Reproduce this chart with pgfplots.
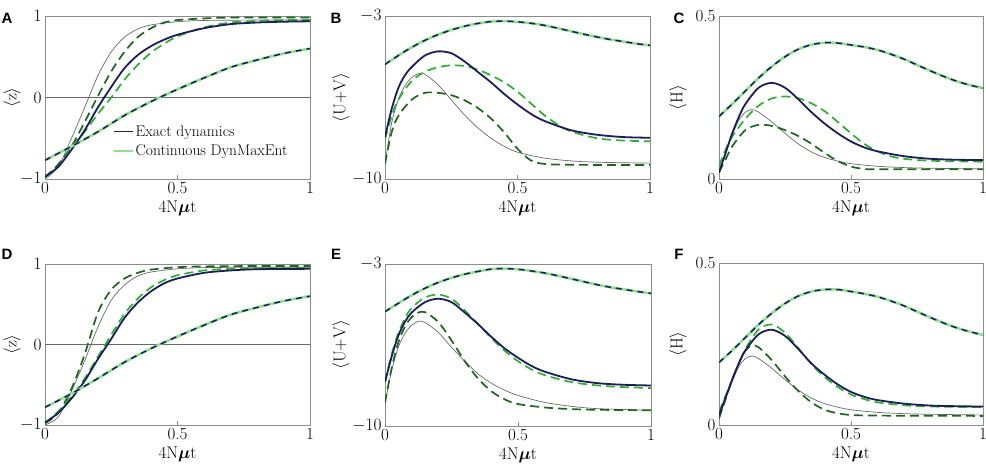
\documentclass[border=0pt]{standalone}
\usepackage{fontspec}
\usepackage{bm}
\usepackage{pgfplots}
\pgfplotsset{compat=1.18}
\newfontfamily\lbl{Liberation Sans}
\definecolor{navy}{RGB}{28,28,98}
\definecolor{ltgreen}{RGB}{135,230,135}
\definecolor{mdgreen}{RGB}{40,180,40}
\definecolor{dkgreen}{RGB}{25,105,25}
\definecolor{curvegray}{RGB}{105,105,105}
\definecolor{framegray}{RGB}{140,140,140}
\newcommand{\bigf}{\fontsize{17}{19}\selectfont}
\pgfplotsset{
  panel/.style={scale only axis, width=265pt, height=163pt, xmin=0, xmax=1,
    xtick={0,0.5,1}, xticklabels={0,0.5,1},
    axis line style={framegray, line width=0.6pt},
    tick style={framegray, line width=0.6pt}, major tick length=4pt, tick align=inside,
    xtick pos=bottom, ytick pos=left, clip=true,
    tick label style={font=\bigf},
    label style={font=\bigf},
    xlabel={4N$\bm{\mu}$t},
    xlabel style={at={(axis description cs:0.5,0)}, anchor=center, yshift=-29pt},
    anchor=south west},
  grayc/.style={color=curvegray, line width=0.7pt, smooth, forget plot},
  dgreen/.style={color=dkgreen, line width=1.7pt, dash pattern=on 9pt off 5pt, smooth, forget plot},
  mgreen/.style={color=mdgreen, line width=1.7pt, dash pattern=on 9pt off 5pt, smooth, forget plot},
  exact/.style={color=navy, line width=1.8pt, smooth, forget plot},
  cont/.style={color=ltgreen, line width=2.6pt, smooth, forget plot},
  exactd/.style={color=navy, line width=1.5pt, dash pattern=on 6pt off 5pt, smooth, forget plot},
}
\begin{document}
\begin{tikzpicture}
\path[use as bounding box] (0,0) rectangle (986pt,470pt);
% ---------------- A ----------------
\begin{axis}[panel, at={(45pt,291pt)}, ymin=-1, ymax=1, ytick={-1,0,1},
  ylabel={$\langle \mathrm{z}\rangle$},
  ylabel style={at={([xshift=-33pt]axis description cs:0,0.5)}, anchor=center},
  legend style={at={(axis description cs:0.245,0.355)}, anchor=north west, draw=none, fill=none,
    font=\fontsize{15.5}{18}\selectfont, row sep=3pt},
  legend cell align=left,
  legend image code/.code={\draw[#1, line width=1.5pt] (0pt,0pt) -- (19pt,0pt);}]
\addlegendimage{navy}
\addlegendentry{Exact dynamics}
\addlegendimage{ltgreen}
\addlegendentry{Continuous DynMaxEnt}
\addplot[curvegray, line width=0.6pt, forget plot] coordinates {(0,0) (1,0)};
\addplot[grayc] coordinates {(0,-1) (0.05,-0.85) (0.1,-0.5) (0.15,-0.12) (0.2,0.27) (0.25,0.56) (0.3,0.74) (0.35,0.84) (0.4,0.89) (0.5,0.93) (0.6,0.945) (0.8,0.95) (1,0.95)};
\addplot[dgreen] coordinates {(0,-0.98) (0.05,-0.82) (0.1,-0.6) (0.15,-0.3) (0.2,0.02) (0.25,0.32) (0.3,0.56) (0.35,0.74) (0.4,0.85) (0.45,0.92) (0.5,0.95) (0.6,0.97) (0.7,0.98) (1,0.98)};
\addplot[mgreen] coordinates {(0,-0.98) (0.05,-0.85) (0.1,-0.62) (0.15,-0.42) (0.2,-0.2) (0.25,0.0) (0.3,0.22) (0.35,0.4) (0.4,0.55) (0.45,0.66) (0.5,0.75) (0.6,0.86) (0.7,0.92) (0.8,0.94) (0.9,0.95) (1,0.95)};
\addplot[exact] coordinates {(0,-0.97) (0.05,-0.85) (0.1,-0.64) (0.15,-0.4) (0.2,-0.12) (0.25,0.13) (0.3,0.36) (0.35,0.52) (0.4,0.63) (0.45,0.71) (0.5,0.77) (0.6,0.85) (0.7,0.9) (0.8,0.92) (0.9,0.93) (1,0.935)};
\addplot[cont] coordinates {(0,-0.77) (0.1,-0.6) (0.2,-0.42) (0.3,-0.22) (0.4,-0.05) (0.5,0.1) (0.6,0.24) (0.7,0.37) (0.8,0.46) (0.9,0.54) (1,0.6)};
\addplot[exactd] coordinates {(0,-0.77) (0.1,-0.6) (0.2,-0.42) (0.3,-0.22) (0.4,-0.05) (0.5,0.1) (0.6,0.24) (0.7,0.37) (0.8,0.46) (0.9,0.54) (1,0.6)};
\end{axis}
% ---------------- B ----------------
\begin{axis}[panel, at={(385pt,291pt)}, ymin=-10, ymax=-3, ytick={-10,-3},
  ylabel={$\langle \mathrm{U{+}V}\rangle$},
  ylabel style={at={([xshift=-44pt]axis description cs:0,0.5)}, anchor=center}]
\addplot[grayc] coordinates {(0,-9.35) (0.025,-7.6) (0.05,-6.6) (0.075,-6.0) (0.1,-5.65) (0.125,-5.48) (0.15,-5.5) (0.2,-5.95) (0.25,-6.6) (0.3,-7.25) (0.35,-7.8) (0.4,-8.25) (0.45,-8.6) (0.5,-8.85) (0.6,-9.1) (0.7,-9.22) (0.8,-9.28) (1,-9.32)};
\addplot[dgreen] coordinates {(0,-9.35) (0.025,-8.0) (0.05,-7.3) (0.1,-6.6) (0.15,-6.3) (0.2,-6.3) (0.25,-6.4) (0.3,-6.62) (0.35,-6.95) (0.4,-7.4) (0.45,-8.0) (0.5,-8.7) (0.55,-9.2) (0.6,-9.35) (0.7,-9.39) (1,-9.4)};
\addplot[mgreen] coordinates {(0,-8.3) (0.025,-7.3) (0.05,-6.6) (0.1,-5.8) (0.15,-5.4) (0.2,-5.2) (0.25,-5.12) (0.3,-5.15) (0.35,-5.3) (0.4,-5.55) (0.45,-5.85) (0.5,-6.25) (0.55,-6.75) (0.6,-7.25) (0.65,-7.65) (0.7,-7.95) (0.8,-8.25) (0.9,-8.35) (1,-8.38)};
\addplot[exact] coordinates {(0,-8.2) (0.025,-7.0) (0.05,-6.1) (0.075,-5.55) (0.1,-5.2) (0.15,-4.7) (0.2,-4.52) (0.25,-4.6) (0.3,-4.95) (0.35,-5.4) (0.4,-5.85) (0.45,-6.35) (0.5,-6.8) (0.55,-7.2) (0.6,-7.5) (0.7,-7.9) (0.8,-8.1) (0.9,-8.2) (1,-8.23)};
\addplot[cont] coordinates {(0,-5.08) (0.05,-4.7) (0.1,-4.35) (0.15,-4.05) (0.2,-3.8) (0.25,-3.6) (0.3,-3.44) (0.35,-3.32) (0.4,-3.24) (0.45,-3.22) (0.5,-3.25) (0.55,-3.31) (0.6,-3.4) (0.65,-3.52) (0.7,-3.65) (0.75,-3.78) (0.8,-3.9) (0.85,-4.01) (0.9,-4.1) (0.95,-4.19) (1,-4.26)};
\addplot[exactd] coordinates {(0,-5.08) (0.05,-4.7) (0.1,-4.35) (0.15,-4.05) (0.2,-3.8) (0.25,-3.6) (0.3,-3.44) (0.35,-3.32) (0.4,-3.24) (0.45,-3.22) (0.5,-3.25) (0.55,-3.31) (0.6,-3.4) (0.65,-3.52) (0.7,-3.65) (0.75,-3.78) (0.8,-3.9) (0.85,-4.01) (0.9,-4.1) (0.95,-4.19) (1,-4.26)};
\end{axis}
% ---------------- C ----------------
\begin{axis}[panel, at={(719pt,291pt)}, width=264pt, ymin=0, ymax=0.5, ytick={0,0.5}, yticklabels={0,0.5},
  ylabel={$\langle \mathrm{H}\rangle$},
  ylabel style={at={([xshift=-41pt]axis description cs:0,0.5)}, anchor=center}]
\addplot[grayc] coordinates {(0,0.02) (0.025,0.08) (0.05,0.135) (0.075,0.18) (0.1,0.205) (0.125,0.213) (0.15,0.205) (0.2,0.175) (0.25,0.14) (0.3,0.108) (0.35,0.083) (0.4,0.066) (0.45,0.055) (0.5,0.047) (0.6,0.039) (0.7,0.035) (0.8,0.033) (1,0.031)};
\addplot[dgreen] coordinates {(0,0.02) (0.025,0.06) (0.05,0.1) (0.1,0.15) (0.15,0.166) (0.2,0.163) (0.25,0.15) (0.3,0.132) (0.35,0.108) (0.4,0.08) (0.45,0.055) (0.5,0.038) (0.55,0.031) (0.6,0.03) (1,0.03)};
\addplot[mgreen] coordinates {(0,0.04) (0.025,0.09) (0.05,0.13) (0.1,0.185) (0.15,0.225) (0.2,0.247) (0.25,0.253) (0.3,0.248) (0.35,0.232) (0.4,0.208) (0.45,0.175) (0.5,0.14) (0.55,0.108) (0.6,0.085) (0.65,0.07) (0.7,0.062) (0.8,0.056) (1,0.053)};
\addplot[exact] coordinates {(0,0.02) (0.025,0.08) (0.05,0.14) (0.075,0.19) (0.1,0.23) (0.15,0.28) (0.2,0.295) (0.25,0.28) (0.3,0.245) (0.35,0.205) (0.4,0.17) (0.45,0.14) (0.5,0.115) (0.55,0.097) (0.6,0.085) (0.7,0.07) (0.8,0.062) (0.9,0.059) (1,0.058)};
\addplot[cont] coordinates {(0,0.192) (0.05,0.23) (0.1,0.27) (0.15,0.31) (0.2,0.345) (0.25,0.375) (0.3,0.398) (0.35,0.412) (0.4,0.418) (0.45,0.417) (0.5,0.411) (0.55,0.405) (0.6,0.396) (0.65,0.383) (0.7,0.368) (0.75,0.35) (0.8,0.332) (0.85,0.315) (0.9,0.3) (0.95,0.288) (1,0.279)};
\addplot[exactd] coordinates {(0,0.192) (0.05,0.23) (0.1,0.27) (0.15,0.31) (0.2,0.345) (0.25,0.375) (0.3,0.398) (0.35,0.412) (0.4,0.418) (0.45,0.417) (0.5,0.411) (0.55,0.405) (0.6,0.396) (0.65,0.383) (0.7,0.368) (0.75,0.35) (0.8,0.332) (0.85,0.315) (0.9,0.3) (0.95,0.288) (1,0.279)};
\end{axis}
% ---------------- D ----------------
\begin{axis}[panel, at={(45pt,45pt)}, height=161pt, ymin=-1, ymax=1, ytick={-1,0,1},
  ylabel={$\langle \mathrm{z}\rangle$},
  ylabel style={at={([xshift=-33pt]axis description cs:0,0.5)}, anchor=center}]
\addplot[curvegray, line width=0.6pt, forget plot] coordinates {(0,0) (1,0)};
\addplot[grayc] coordinates {(0,-1) (0.05,-0.9) (0.1,-0.58) (0.15,-0.2) (0.2,0.22) (0.25,0.55) (0.3,0.74) (0.35,0.85) (0.4,0.9) (0.5,0.94) (0.6,0.955) (0.8,0.96) (1,0.96)};
\addplot[dgreen] coordinates {(0,-0.98) (0.05,-0.85) (0.1,-0.55) (0.15,-0.12) (0.2,0.4) (0.25,0.68) (0.3,0.82) (0.35,0.89) (0.4,0.93) (0.5,0.96) (0.6,0.97) (0.8,0.975) (1,0.975)};
\addplot[mgreen] coordinates {(0,-0.98) (0.05,-0.83) (0.1,-0.65) (0.15,-0.42) (0.2,-0.15) (0.25,0.12) (0.3,0.38) (0.35,0.57) (0.4,0.71) (0.45,0.8) (0.5,0.86) (0.6,0.92) (0.7,0.94) (0.85,0.95) (1,0.95)};
\addplot[exact] coordinates {(0,-0.97) (0.05,-0.85) (0.1,-0.67) (0.15,-0.45) (0.2,-0.18) (0.25,0.07) (0.3,0.33) (0.35,0.52) (0.4,0.66) (0.45,0.76) (0.5,0.82) (0.6,0.89) (0.7,0.92) (0.8,0.935) (1,0.94)};
\addplot[cont] coordinates {(0,-0.78) (0.1,-0.61) (0.2,-0.42) (0.3,-0.22) (0.4,-0.05) (0.5,0.1) (0.6,0.24) (0.7,0.37) (0.8,0.46) (0.9,0.54) (1,0.6)};
\addplot[exactd] coordinates {(0,-0.78) (0.1,-0.61) (0.2,-0.42) (0.3,-0.22) (0.4,-0.05) (0.5,0.1) (0.6,0.24) (0.7,0.37) (0.8,0.46) (0.9,0.54) (1,0.6)};
\end{axis}
% ---------------- E ----------------
\begin{axis}[panel, at={(385pt,44pt)}, width=266pt, height=162pt, ymin=-10, ymax=-3, ytick={-10,-3},
  ylabel={$\langle \mathrm{U{+}V}\rangle$},
  ylabel style={at={([xshift=-44pt]axis description cs:0,0.5)}, anchor=center}]
\addplot[grayc] coordinates {(0,-9.0) (0.025,-7.6) (0.05,-6.6) (0.075,-6.0) (0.1,-5.65) (0.125,-5.48) (0.15,-5.52) (0.2,-5.95) (0.25,-6.6) (0.3,-7.2) (0.35,-7.75) (0.4,-8.15) (0.45,-8.45) (0.5,-8.68) (0.6,-8.98) (0.7,-9.15) (0.8,-9.25) (1,-9.32)};
\addplot[dgreen] coordinates {(0,-9.0) (0.025,-7.5) (0.05,-6.4) (0.075,-5.7) (0.1,-5.3) (0.125,-5.1) (0.15,-5.08) (0.2,-5.5) (0.25,-6.3) (0.3,-7.2) (0.35,-7.95) (0.4,-8.5) (0.45,-8.85) (0.5,-9.05) (0.6,-9.2) (0.7,-9.27) (0.8,-9.3) (1,-9.32)};
\addplot[mgreen] coordinates {(0,-8.1) (0.025,-6.9) (0.05,-6.0) (0.075,-5.35) (0.1,-4.9) (0.15,-4.45) (0.2,-4.32) (0.25,-4.5) (0.3,-5.0) (0.35,-5.6) (0.4,-6.2) (0.45,-6.75) (0.5,-7.2) (0.55,-7.55) (0.6,-7.8) (0.7,-8.1) (0.8,-8.25) (0.9,-8.32) (1,-8.36)};
\addplot[exact] coordinates {(0,-8.1) (0.025,-7.0) (0.05,-6.1) (0.075,-5.5) (0.1,-5.1) (0.15,-4.65) (0.2,-4.5) (0.25,-4.65) (0.3,-5.1) (0.35,-5.6) (0.4,-6.15) (0.45,-6.65) (0.5,-7.05) (0.55,-7.4) (0.6,-7.65) (0.7,-7.98) (0.8,-8.15) (0.9,-8.22) (1,-8.25)};
\addplot[cont] coordinates {(0,-5.06) (0.05,-4.7) (0.1,-4.35) (0.15,-4.05) (0.2,-3.8) (0.25,-3.6) (0.3,-3.44) (0.35,-3.32) (0.4,-3.22) (0.45,-3.2) (0.5,-3.23) (0.55,-3.3) (0.6,-3.39) (0.65,-3.51) (0.7,-3.64) (0.75,-3.77) (0.8,-3.9) (0.85,-4.01) (0.9,-4.1) (0.95,-4.19) (1,-4.27)};
\addplot[exactd] coordinates {(0,-5.06) (0.05,-4.7) (0.1,-4.35) (0.15,-4.05) (0.2,-3.8) (0.25,-3.6) (0.3,-3.44) (0.35,-3.32) (0.4,-3.22) (0.45,-3.2) (0.5,-3.23) (0.55,-3.3) (0.6,-3.39) (0.65,-3.51) (0.7,-3.64) (0.75,-3.77) (0.8,-3.9) (0.85,-4.01) (0.9,-4.1) (0.95,-4.19) (1,-4.27)};
\end{axis}
% ---------------- F ----------------
\begin{axis}[panel, at={(719pt,45pt)}, width=264pt, height=162pt, ymin=0, ymax=0.5, ytick={0,0.5}, yticklabels={0,0.5},
  ylabel={$\langle \mathrm{H}\rangle$},
  ylabel style={at={([xshift=-41pt]axis description cs:0,0.5)}, anchor=center}]
\addplot[grayc] coordinates {(0,0.02) (0.025,0.08) (0.05,0.135) (0.075,0.18) (0.1,0.205) (0.125,0.213) (0.15,0.205) (0.2,0.175) (0.25,0.14) (0.3,0.108) (0.35,0.083) (0.4,0.066) (0.45,0.055) (0.5,0.047) (0.6,0.039) (0.7,0.035) (0.8,0.033) (1,0.031)};
\addplot[dgreen] coordinates {(0,0.02) (0.025,0.08) (0.05,0.14) (0.075,0.19) (0.1,0.23) (0.125,0.245) (0.15,0.24) (0.2,0.2) (0.25,0.15) (0.3,0.105) (0.35,0.07) (0.4,0.047) (0.45,0.036) (0.5,0.031) (0.6,0.029) (1,0.028)};
\addplot[mgreen] coordinates {(0,0.04) (0.025,0.09) (0.05,0.14) (0.075,0.19) (0.1,0.235) (0.15,0.295) (0.2,0.31) (0.25,0.285) (0.3,0.238) (0.35,0.188) (0.4,0.148) (0.45,0.117) (0.5,0.094) (0.55,0.08) (0.6,0.07) (0.7,0.061) (0.8,0.057) (1,0.055)};
\addplot[exact] coordinates {(0,0.03) (0.025,0.085) (0.05,0.14) (0.075,0.19) (0.1,0.23) (0.15,0.28) (0.2,0.294) (0.25,0.275) (0.3,0.235) (0.35,0.19) (0.4,0.155) (0.45,0.125) (0.5,0.102) (0.55,0.087) (0.6,0.077) (0.7,0.066) (0.8,0.06) (0.9,0.058) (1,0.057)};
\addplot[cont] coordinates {(0,0.193) (0.05,0.23) (0.1,0.27) (0.15,0.31) (0.2,0.345) (0.25,0.375) (0.3,0.398) (0.35,0.412) (0.4,0.418) (0.45,0.418) (0.5,0.412) (0.55,0.405) (0.6,0.396) (0.65,0.383) (0.7,0.368) (0.75,0.35) (0.8,0.332) (0.85,0.315) (0.9,0.3) (0.95,0.288) (1,0.278)};
\addplot[exactd] coordinates {(0,0.193) (0.05,0.23) (0.1,0.27) (0.15,0.31) (0.2,0.345) (0.25,0.375) (0.3,0.398) (0.35,0.412) (0.4,0.418) (0.45,0.418) (0.5,0.412) (0.55,0.405) (0.6,0.396) (0.65,0.383) (0.7,0.368) (0.75,0.35) (0.8,0.332) (0.85,0.315) (0.9,0.3) (0.95,0.288) (1,0.278)};
\end{axis}
% panel letters
\node[font=\lbl\bfseries\fontsize{15}{15}\selectfont] at (7pt,452pt) {A};
\node[font=\lbl\bfseries\fontsize{15}{15}\selectfont] at (336pt,452pt) {B};
\node[font=\lbl\bfseries\fontsize{15}{15}\selectfont] at (679pt,452pt) {C};
\node[font=\lbl\bfseries\fontsize{15}{15}\selectfont] at (7pt,216pt) {D};
\node[font=\lbl\bfseries\fontsize{15}{15}\selectfont] at (336pt,216pt) {E};
\node[font=\lbl\bfseries\fontsize{15}{15}\selectfont] at (679pt,216pt) {F};
\end{tikzpicture}
\end{document}
